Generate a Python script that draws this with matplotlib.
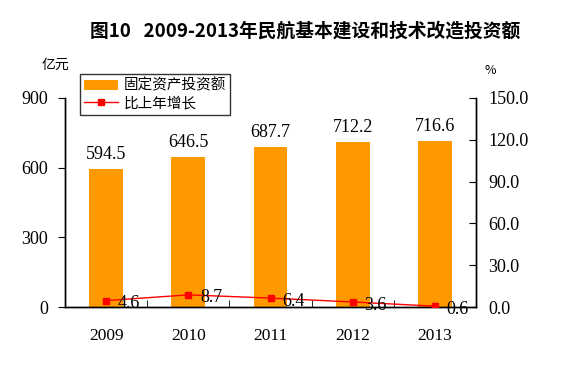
import matplotlib
matplotlib.use("Agg")
import matplotlib.pyplot as plt
import numpy as np

years = ["2009", "2010", "2011", "2012", "2013"]
investment = [594.5, 646.5, 687.7, 712.2, 716.6]
growth = [4.6, 8.7, 6.4, 3.6, 0.6]
left_ticks = [0, 300, 600, 900]
right_ticks = [0, 30, 60, 90, 120, 150]

plt.rcParams['font.family'] = ['Noto Sans CJK SC', 'DejaVu Sans']
numfont = 'Liberation Serif'
numsize = 13

W, H = 568, 366
fig = plt.figure(figsize=(W/100, H/100), dpi=100)
ax = fig.add_axes([65/W, 1-307/H, 411/W, 209/H])
ax2 = ax.twinx()

x = np.arange(len(years))
ax.bar(x, investment, width=0.41, color='#FF9900', label='固定资产投资额', zorder=2)
ax.set_xlim(-0.5, len(years)-0.5)
ax.set_ylim(0, 900)
ax.set_yticks(left_ticks)
ax.set_yticklabels([str(t) for t in left_ticks], family=numfont, fontsize=numsize)
ax.set_xticks(x)
ax.set_xticklabels(years, family=numfont, fontsize=12.5)
ax.set_xticks(np.arange(1, len(years))-0.5, minor=True)
ax.tick_params(axis='x', which='major', length=0, pad=15)
ax.tick_params(axis='x', which='minor', length=5, direction='in')
ax.tick_params(axis='y', length=5, direction='out', pad=7)
for a in (ax, ax2):
    a.spines['top'].set_visible(False)
    for s in a.spines.values():
        s.set_linewidth(1)

for xi, v in zip(x, investment):
    ax.text(xi, v + 62, f"{v:.1f}", ha='center', va='center', family=numfont, fontsize=numsize)

ax2.plot(x, growth, color='#FF0000', lw=1, marker='s', markersize=5, label='比上年增长', zorder=3)
ax2.set_ylim(0, 150)
ax2.set_yticks(right_ticks)
ax2.set_yticklabels([f"{t:.1f}" for t in right_ticks], family=numfont, fontsize=numsize)
ax2.tick_params(axis='y', length=5, direction='in', pad=9)
for xi, v in zip(x, growth):
    ax2.text(xi + 0.145, v - 2.2, f"{v:.1f}", ha='left', va='center', family=numfont, fontsize=numsize)

fig.text(305/W, 1-31/H, "图10   2009-2013年民航基本建设和技术改造投资额", ha='center', va='center',
         fontsize=13.5, fontweight='bold')
fig.text(55/W, 1-65/H, "亿元", ha='center', va='center', fontsize=10)
fig.text(490/W, 1-70/H, "%", ha='center', va='center', fontsize=9)

h1, l1 = ax.get_legend_handles_labels()
h2, l2 = ax2.get_legend_handles_labels()
leg = fig.legend(h1 + h2, l1 + l2, loc='upper left', bbox_to_anchor=(80/W, 1-74/H),
                 frameon=True, fancybox=False, edgecolor='black', fontsize=10.5,
                 borderpad=0.3, labelspacing=0.25, handlelength=2.3, handletextpad=0.4,
                 borderaxespad=0)
leg.get_frame().set_linewidth(1)

fig.savefig("out.png", dpi=100)
